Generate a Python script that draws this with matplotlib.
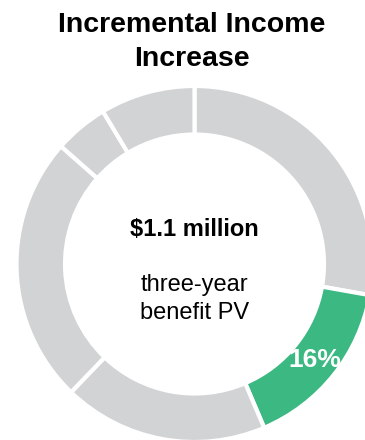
import matplotlib
matplotlib.use("Agg")
import matplotlib.pyplot as plt
import numpy as np

# Share of the three-year benefit PV, clockwise from 12 o'clock
segments = ["Other A", "Incremental income", "Other B", "Other C", "Other D", "Other E"]
shares = [27.8, 15.8, 18.6, 24.3, 4.9, 8.6]
highlight = "Incremental income"
highlight_label = "16%"

title = "Incremental Income\nIncrease"
total_value = "$1.1 million"
total_caption = "three-year\nbenefit PV"

gray = "#D1D3D4"
green = "#3CB982"

plt.rcParams["font.family"] = ["Liberation Sans", "DejaVu Sans"]

fig = plt.figure(figsize=(3.65, 4.4), dpi=100)
ax = fig.add_axes([0, 0, 1, 1])

colors = [green if s == highlight else gray for s in segments]
wedges, _ = ax.pie(shares, radius=1.0, startangle=90, counterclock=False,
                   colors=colors,
                   wedgeprops=dict(width=0.2725, edgecolor="white", linewidth=3))

# donut centre sits at (194.5, 264) px from top-left, radius 178 px
scale = 178.0
ax.set_xlim(-194.5 / scale, (365 - 194.5) / scale)
ax.set_ylim(-(440 - 264) / scale, 264 / scale)
ax.set_aspect("auto")
ax.axis("off")

# label on highlighted wedge
w = wedges[segments.index(highlight)]
mid = np.deg2rad((w.theta1 + w.theta2) / 2)
r = 1.0 - 0.2725 / 2
ax.text(r * np.cos(mid), r * np.sin(mid), highlight_label, color="white",
        fontsize=19, fontweight="bold", ha="center", va="center")

ax.text(0, 35 / scale, total_value, fontsize=17, fontweight="bold",
        ha="center", va="center")
ax.text(0, -35 / scale, total_caption, fontsize=17, ha="center", va="center",
        linespacing=1.3)

fig.text(192 / 365, 1 - 42 / 440, title, fontsize=20.5, fontweight="bold",
         ha="center", va="center", linespacing=1.45)

fig.savefig("out.png", dpi=100)
